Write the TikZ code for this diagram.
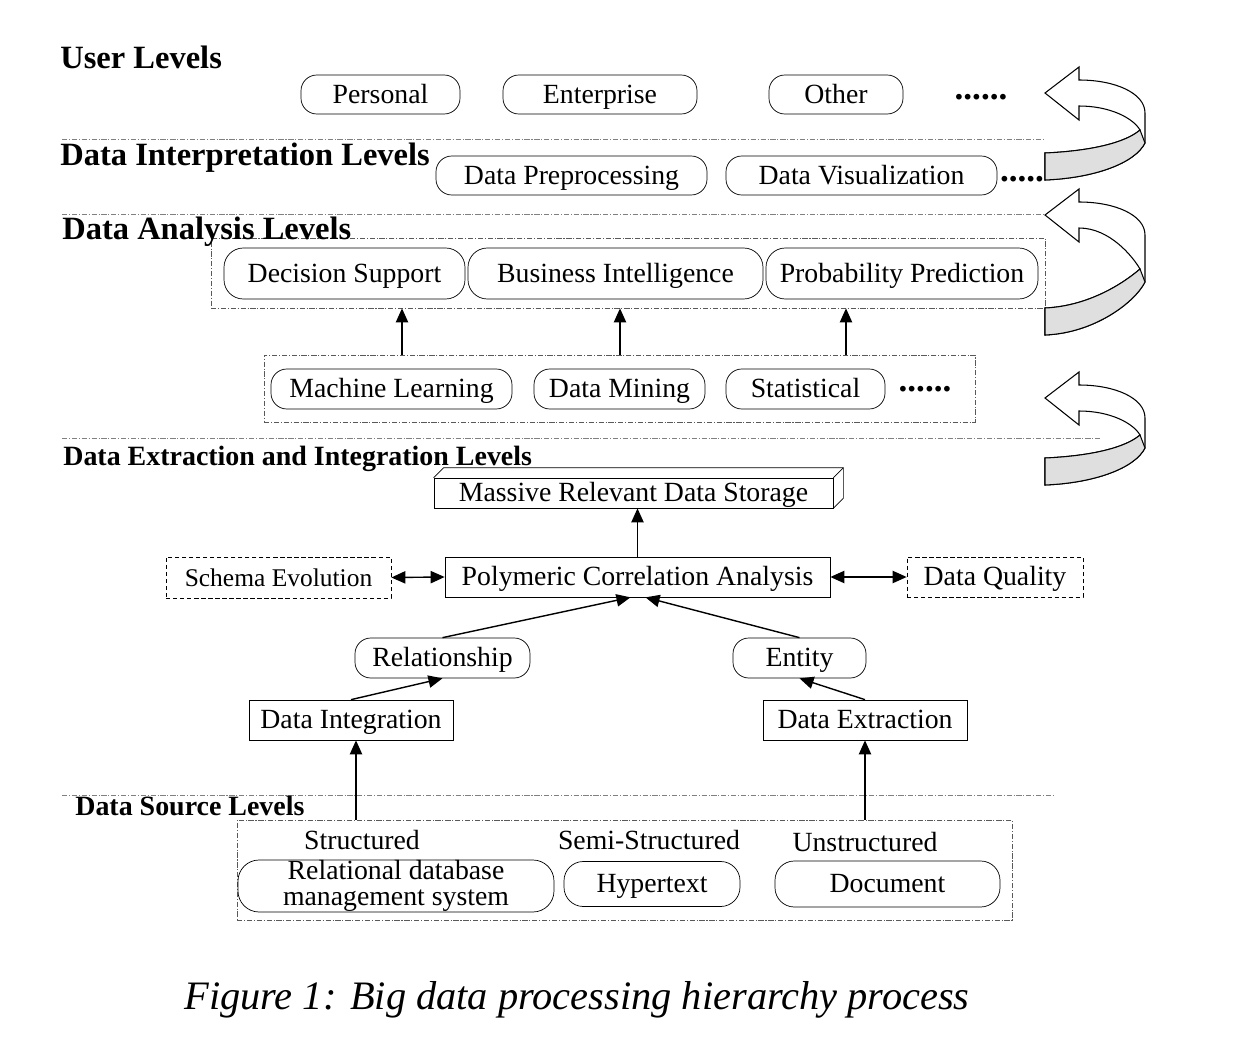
\documentclass[tikz,border=0pt]{standalone}
\usepackage{fontspec}
\setmainfont{Liberation Serif}
\usepackage{tikz}
\usetikzlibrary{arrows.meta,calc,positioning}

\newcommand{\boxfont}{\fontsize{15.8}{15}\selectfont}

\begin{document}
\begin{tikzpicture}[
    x=0.02cm,
    y=-0.02cm,
    wh/.style 2 args={minimum width=#1*0.02cm, minimum height=#2*0.02cm},
    fixh/.style={text height=12.5pt, text depth=2.5pt},
    rbox0/.style={draw, rounded corners=9pt, inner sep=0pt, font=\boxfont, align=center},
    rbox/.style={rbox0, fixh},
    sbox/.style={draw, inner sep=0pt, font=\boxfont, fixh},
    dbox/.style={sbox, dash pattern=on 2.5pt off 1.5pt},
    grp/.style={draw, gray!70!black, inner sep=0pt, dash pattern=on 3pt off 1pt on 0.6pt off 1pt},
    sep/.style={gray, dash pattern=on 3pt off 1pt on 0.6pt off 1pt},
    lvl/.style={anchor=base west, inner sep=0pt, font=\fontsize{18.5}{20}\selectfont\bfseries},
    lvlsmall/.style={lvl, font=\fontsize{15.9}{17}\selectfont\bfseries},
    dots/.style={anchor=base, inner sep=0pt, font=\fontsize{20}{20}\selectfont\bfseries},
    arr/.style={-{Triangle[length=8pt,width=7pt]}, line width=0.8pt},
    dbl/.style={{Triangle[length=8pt,width=7pt]}-{Triangle[length=8pt,width=7pt]}, line width=0.8pt}
]
    % Page
    \useasboundingbox[fill=white] (0,0) rectangle (1252,1048);

    % Level separators
    \draw[sep] (62,139) -- (1045,139);
    \draw[sep] (62,214) -- (1045,214);
    \draw[sep] (62,438) -- (1100,438);
    \draw[sep] (62,795) -- (1053,795);

    % User levels
    \node[lvl] (hUser) at (60,69) {User Levels};
    \node[rbox, wh={159}{39}] (personal) at (380.5,94.5) {Personal};
    \node[rbox, wh={194}{39}] (enterprise) at (600,94.5) {Enterprise};
    \node[rbox, wh={134}{39}] (other) at (836,94.5) {Other};
    \node[dots] (dotsU) at (981,99) {......};

    % Data interpretation levels
    \node[lvl] (hInterp) at (60,165) {Data Interpretation Levels};
    \node[rbox, wh={271}{39}] (prep) at (571.5,175.5) {Data Preprocessing};
    \node[rbox, wh={271}{39}] (vis) at (861.5,175.5) {Data Visualization};
    \node[dots] (dotsI) at (1022,181) {.....};

    % Data analysis levels
    \node[grp, wh={834}{70}] (upbox) at (628,273) {};
    \node[lvl] (hAnal) at (62,239) {Data Analysis Levels};
    \node[rbox, wh={241}{51}, rounded corners=11pt] (ds) at (344.5,273.5) {Decision Support};
    \node[rbox, wh={295}{51}, rounded corners=11pt] (bi) at (615.5,273.5) {Business Intelligence};
    \node[rbox, wh={272}{51}, rounded corners=11pt] (pp) at (902,273.5) {Probability Prediction};

    \node[grp, wh={711}{67}] (lowbox) at (619.5,388.5) {};
    \node[rbox, wh={241}{40}] (ml) at (391.5,389) {Machine Learning};
    \node[rbox, wh={171}{40}] (dm) at (619.5,389) {Data Mining};
    \node[rbox, wh={159}{40}] (st) at (805.5,389) {Statistical};
    \node[dots] (dotsA) at (925,391) {......};

    \foreach \x in {402,620,846} {
        \coordinate (c) at (\x,0);
        \draw[arr] (c |- lowbox.north) -- (c |- upbox.south);
    }

    % Data extraction and integration levels
    \node[lvlsmall] (hExtr) at (63,465) {Data Extraction and Integration Levels};
    \node[sbox, wh={399}{30}] (storage) at (633.5,493) {Massive Relevant Data Storage};
    \draw (storage.north west) -- ++(10,-10) -- ($(storage.north east)+(10,-10)$)
        -- ($(storage.south east)+(10,-10)$) -- (storage.south east);
    \draw (storage.north east) -- ++(10,-10);

    \node[sbox, wh={385}{40}] (pca) at (637.5,577) {Polymeric Correlation Analysis};
    \node[dbox, wh={225}{41}, font=\fontsize{14.5}{16}\selectfont] (schema) at (278.5,577.5) {Schema Evolution};
    \node[dbox, wh={176}{40}] (quality) at (995,577) {Data Quality};
    \node[rbox, wh={175}{40}] (rel) at (442.5,658) {Relationship};
    \node[rbox, wh={133}{40}] (ent) at (799.5,658) {Entity};
    \node[sbox, wh={204}{40}] (integ) at (351,720) {Data Integration};
    \node[sbox, wh={204}{40}] (extr) at (865,720) {Data Extraction};

    \draw[arr] (pca.north) -- (pca.north |- storage.south);
    \draw[dbl] (schema.east) -- (pca.west);
    \draw[dbl] (pca.east) -- (quality.west);
    \draw[arr] (rel.north) -- ($(pca.south)+(-7,0)$);
    \draw[arr] (ent.north) -- ($(pca.south)+(8,0)$);
    \draw[arr] (integ.north) -- (rel.south);
    \draw[arr] (extr.north) -- (ent.south);

    % Data source levels
    \node[lvlsmall] (hSrc) at (75,815) {Data Source Levels};
    \node[grp, wh={775}{100}] (srcbox) at (624.5,870) {};
    \node[font=\boxfont, fixh] (structured) at (362,841) {Structured};
    \node[font=\boxfont, fixh] (semi) at (649,841) {Semi-Structured};
    \node[font=\boxfont, fixh] (unstructured) at (865,843) {Unstructured};
    \node[rbox0, wh={316}{52}, rounded corners=12pt] (rdbms) at (396,886) {Relational database\\management system};
    \node[rbox, wh={176}{45}, rounded corners=11pt] (hyper) at (652,884) {Hypertext};
    \node[rbox, wh={225}{46}, rounded corners=11pt] (doc) at (887.5,884) {Document};

    \draw[arr] ($(integ.south |- srcbox.north)+(5,0)$) -- ($(integ.south)+(5,0)$);
    \draw[arr] (extr.south |- srcbox.north) -- (extr.south);

    % Level feedback arrows
    \foreach \t/\a/\b in {93/0/0, 215/17/33, 398/0/0} {
        \begin{scope}[shift={(1045,\t)}]
            \filldraw[fill=white, line width=0.6pt] (0,0) -- (34,-26) -- (34,-13)
                .. controls (70,-13) and (100,0) .. (100,20) -- (100,{50+\a})
                .. controls (90,{70+\a}) and (50,{85+\b}) .. (0,{87+\b}) -- (0,{60+\b})
                .. controls (45,{58+\b}) and (80,{50+\a}) .. (95,{37+\a})
                .. controls (88,{25+\a}) and (65,13) .. (34,13) -- (34,27) -- cycle;
            \filldraw[fill=gray!25, line width=0.6pt] (0,{60+\b})
                .. controls (45,{58+\b}) and (80,{50+\a}) .. (95,{37+\a}) -- (100,{50+\a})
                .. controls (90,{70+\a}) and (50,{85+\b}) .. (0,{87+\b}) -- cycle;
        \end{scope}
    }

    % Caption
    \node[font=\fontsize{23}{25}\selectfont\itshape] (caption) at (577,1000) {Figure 1: Big data processing hierarchy process};
\end{tikzpicture}
\end{document}
